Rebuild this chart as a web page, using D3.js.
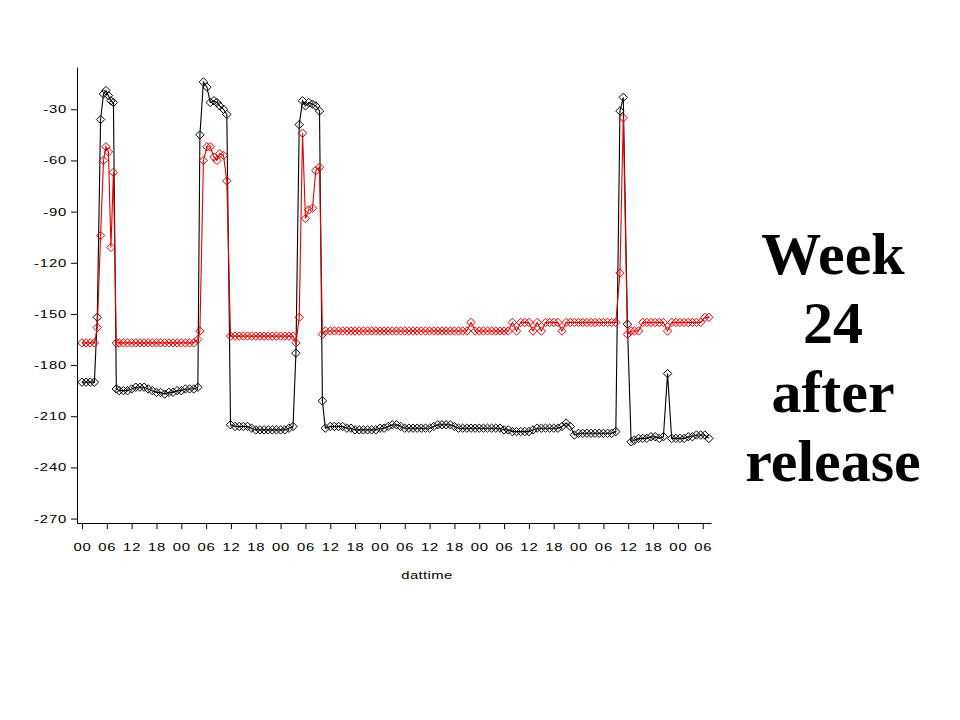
<!DOCTYPE html>
<html><head><meta charset="utf-8">
<script src="https://cdn.jsdelivr.net/npm/d3@7"></script>
<style>body{margin:0;background:#fff}</style>
</head><body><svg id="c" width="960" height="720"></svg>
<script>
// time in hours since the first 00:00 on the axis
const hours = [
  0,1,2,3,
  3.7,4.5,5.2,5.8,6.4,7.0,7.6,8.3,
  9,10,11,12,13,14,15,16,17,18,19,20,21,22,23,24,25,26,27,
  28.0,28.5,29.35,30.2,31.0,31.9,32.6,33.3,34.2,35.0,35.9,
  37,38,39,40,41,42,43,44,45,46,47,48,49,50,
  51.0,51.7,52.5,53.3,54.0,54.8,55.7,56.5,57.4,58.1,58.8,
  60,61,62,63,64,65,66,67,68,69,70,71,72,73,74,75,76,77,78,79,
  80,81,82,83,84,85,86,87,88,89,90,91,92,93,94,95,96,97,98,99,
  100,101,102,103,104,105,106,107,108,109,110,111,112,113,114,115,116,117,118,119,
  120,121,122,123,124,125,126,127,128,129,
  130.0,130.8,131.8,132.7,
  133.5,134.5,135.5,136.5,137.5,138.5,139.5,140.5,141.5,142.5,143.5,144.5,145.5,146.5,147.5,148.5,149.5,150.5,151.5
];
const blackVals = [
  -190,-190,-190,-190,
  -152,-36,-21,-19,-22,-25,-26,-194,
  -195,-195,-195,-194,-193,-193,-193,-194,-195,-196,-196,-197,-196,-196,-195,-195,-194,-194,-194,
  -193,-45,-14,-17,-26,-25,-26,-28,-30,-33,-215,
  -216,-216,-216,-216,-217,-218,-218,-218,-218,-218,-218,-218,-218,-217,
  -216,-173,-39,-25,-28,-26,-27,-28,-31,-201,-217,
  -216,-216,-216,-216,-217,-217,-218,-218,-218,-218,
  -218,-218,-217,-217,-216,-215,-215,-216,-217,-217,
  -217,-217,-217,-217,-217,-216,-215,-215,-215,-215,
  -216,-217,-217,-217,-217,-217,-217,-217,-217,-217,
  -217,-217,-218,-218,-219,-219,-219,-219,-219,-218,
  -217,-217,-217,-217,-217,-217,-216,-214,-216,-221,
  -220,-220,-220,-220,-220,-220,-220,-220,-220,-219,
  -31,-23,-156,-225,
  -224,-223,-223,-223,-222,-222,-223,-222,-185,-223,-223,-223,-223,-222,-222,-221,-221,-221,-223
];
const redVals = [
  -167,-167,-167,-167,
  -158,-104,-60,-52,-55,-111,-67,-167,
  -167,-167,-167,-167,-167,-167,-167,-167,-167,-167,-167,-167,-167,-167,-167,-167,-167,-167,-167,
  -165,-160,-60,-52,-52,-58,-60,-56,-57,-72,-163,
  -163,-163,-163,-163,-163,-163,-163,-163,-163,-163,-163,-163,-163,-163,
  -163,-167,-152,-44,-94,-89,-88,-66,-64,-162,-160,
  -160,-160,-160,-160,-160,-160,-160,-160,-160,-160,
  -160,-160,-160,-160,-160,-160,-160,-160,-160,-160,
  -160,-160,-160,-160,-160,-160,-160,-160,-160,-160,
  -160,-160,-160,-160,-155,-160,-160,-160,-160,-160,
  -160,-160,-160,-160,-155,-160,-155,-155,-155,-160,
  -155,-160,-155,-155,-155,-155,-160,-155,-155,-155,
  -155,-155,-155,-155,-155,-155,-155,-155,-155,-155,
  -126,-35,-162,-160,
  -160,-160,-155,-155,-155,-155,-155,-155,-160,-155,-155,-155,-155,-155,-155,-155,-155,-152,-152
];
const xTickHours = [0,6,12,18,24,30,36,42,48,54,60,66,72,78,84,90,96,102,108,114,120,126,132,138,144,150];
const xTickLabels = ["00","06","12","18","00","06","12","18","00","06","12","18","00","06","12","18","00","06","12","18","00","06","12","18","00","06"];
const yTickValues = [-270,-240,-210,-180,-150,-120,-90,-60,-30];
const xTitle = "dattime";
const sideText = ["Week","24","after","release"];

const svg = d3.select("#c");
const x = d3.scaleLinear().domain([-1.2,152]).range([77,711]);
const y = d3.scaleLinear().domain([-272.6,-5.2]).range([523,67]);

const yMinor = d3.range(-270, -5, 5);
const xMinor = d3.range(-1, 152.01, 1);
const SX = 1.35;

const gy = svg.append("g").attr("transform","translate(77,0)");
gy.call(d3.axisLeft(y).tickValues(yMinor).tickSize(3).tickSizeOuter(0).tickFormat(""));
gy.call(d3.axisLeft(y).tickValues(yTickValues).tickSize(6).tickSizeOuter(0).tickFormat(d=>String(d)).tickPadding(4));
const gx = svg.append("g").attr("transform","translate(0,523)");
gx.call(d3.axisBottom(x).tickValues(xMinor).tickSize(3).tickSizeOuter(0).tickFormat(""));
gx.call(d3.axisBottom(x).tickValues(xTickHours).tickSize(6).tickSizeOuter(0)
  .tickFormat((d,i)=>xTickLabels[i]).tickPadding(14));
svg.selectAll(".domain").attr("stroke","#000");
svg.selectAll(".tick line").attr("stroke","#000");
svg.selectAll(".tick text").attr("fill","#000")
  .style("font-family","'Liberation Sans',Arial,sans-serif").style("font-size","11px").style("letter-spacing","0.6px")
  .attr("transform",`scale(${SX},1)`);
gy.selectAll(".tick text").attr("x", -10/SX);

svg.append("text").attr("transform",`translate(427,579) scale(${SX},1)`).attr("text-anchor","middle")
  .style("font-family","'Liberation Sans',Arial,sans-serif").style("font-size","11px")
  .style("letter-spacing","0.3px").text(xTitle);

const pts = hours.map((h,i)=>({h, b:blackVals[i], r:redVals[i]}));
const diamond = "M0,-4.2L4.2,0L0,4.2L-4.2,0Z";

function drawSeries(key, color){
  const line = d3.line().x(d=>x(d.h)).y(d=>y(d[key]));
  svg.append("path").datum(pts).attr("d",line).attr("fill","none")
    .attr("stroke",color).attr("stroke-width",1.1);
  svg.append("g").selectAll("path").data(pts).join("path")
    .attr("d",diamond).attr("transform",d=>`translate(${x(d.h)},${y(d[key])})`)
    .attr("fill","none").attr("stroke",color).attr("stroke-width",1);
}
drawSeries("b","#000");
drawSeries("r","#e00000");

const st = svg.append("g");
st.selectAll("text").data(sideText).join("text")
  .attr("x",833).attr("y",(d,i)=>274+i*69).attr("text-anchor","middle")
  .style("font-family","'Liberation Serif','Times New Roman',serif")
  .style("font-weight","bold").style("font-size","60px").attr("fill","#000").text(d=>d);
</script></body></html>
